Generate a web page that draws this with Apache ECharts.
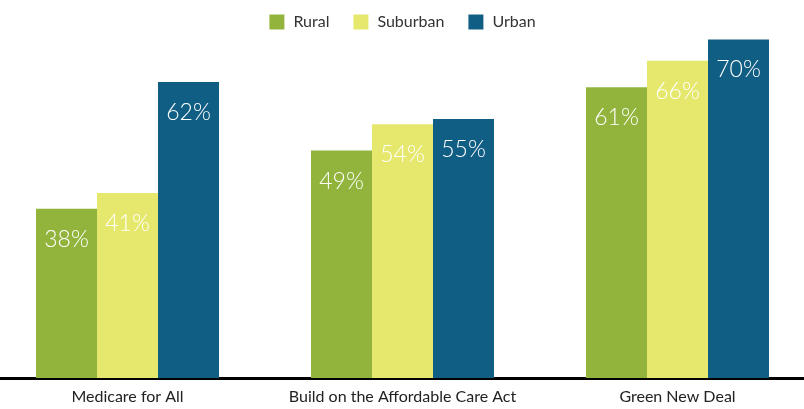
<!DOCTYPE html>
<html>
<head>
<meta charset="utf-8">
<script src="https://cdn.jsdelivr.net/npm/echarts@6/dist/echarts.min.js"></script>
<style>
  html, body { margin: 0; padding: 0; background: #fff; overflow: hidden; }
  /* wider than the window so the groups are spaced like the original */
  #chart { width: 825px; height: 409px; margin-left: -10px; }
</style>
</head>
<body>
<div id="chart"></div>
<script>
const categories = ['Medicare for All', 'Build on the Affordable Care Act', 'Green New Deal']
const rural = [38, 49, 61]
const suburban = [41, 54, 66]
const urban = [62, 55, 70]

const chart = echarts.init(document.getElementById('chart'))

function barLabel() {
  return {
    show: true,
    position: 'insideTop',
    distance: 19,
    formatter: '{c}%',
    color: '#fff',
    fontSize: 23,
    fontWeight: 300,
    fontFamily: 'Lato'
  }
}

chart.setOption({
  animation: false,
  legend: {
    top: 9,
    left: 'center',
    icon: 'rect',
    itemWidth: 15,
    itemHeight: 15,
    itemGap: 24,
    textStyle: {
      color: '#333',
      fontSize: 16,
      fontFamily: 'Lato',
      padding: [0, 0, 0, 4]
    },
    data: ['Rural', 'Suburban', 'Urban']
  },
  grid: {
    left: 0,
    right: 0,
    top: 29,
    bottom: 31
  },
  xAxis: {
    type: 'category',
    data: categories,
    axisLine: {
      lineStyle: { color: '#000', width: 3 }
    },
    axisTick: { show: false },
    axisLabel: {
      interval: 0,
      color: '#222',
      fontSize: 16,
      fontFamily: 'Lato',
      margin: 11
    }
  },
  yAxis: {
    type: 'value',
    min: 6,
    max: 72,
    show: false
  },
  series: [
    {
      name: 'Rural',
      type: 'bar',
      data: rural,
      barWidth: 61,
      barGap: '0%',
      itemStyle: { color: '#92b43c' },
      label: barLabel()
    },
    {
      name: 'Suburban',
      type: 'bar',
      data: suburban,
      barWidth: 61,
      itemStyle: { color: '#e5e86d' },
      label: barLabel()
    },
    {
      name: 'Urban',
      type: 'bar',
      data: urban,
      barWidth: 61,
      itemStyle: { color: '#115e84' },
      label: barLabel()
    }
  ]
})
</script>
</body>
</html>
